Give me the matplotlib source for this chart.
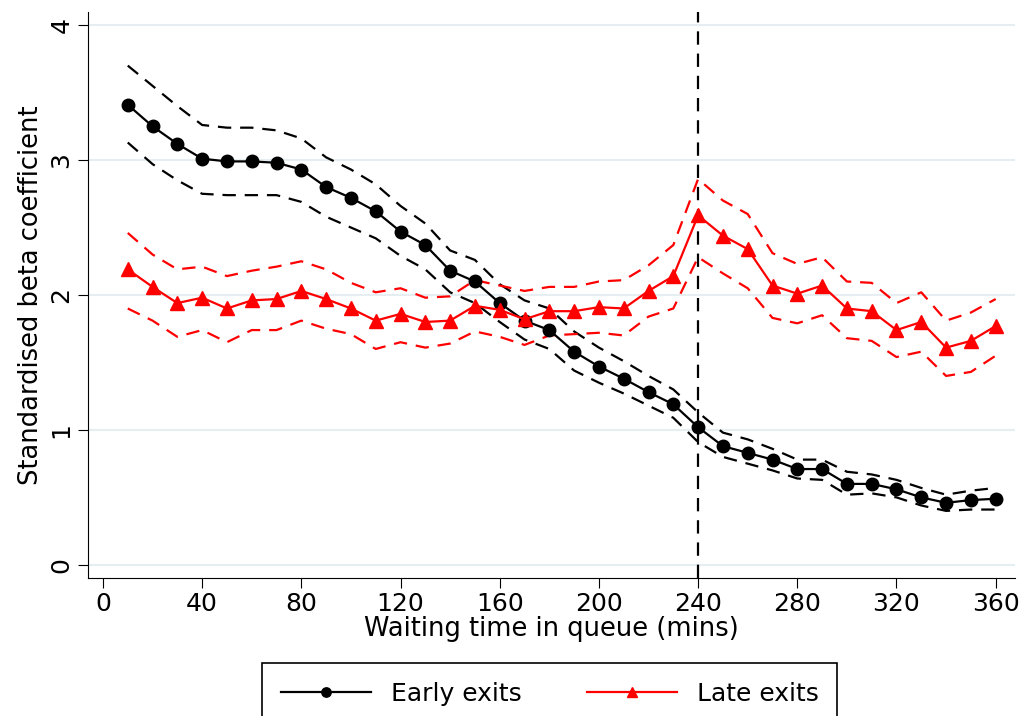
import numpy as np
import matplotlib
matplotlib.use("Agg")
import matplotlib.pyplot as plt

# waiting time bins (mins)
wait = np.arange(10, 370, 10)

early = [3.41, 3.25, 3.12, 3.01, 2.99, 2.99, 2.98, 2.93, 2.80, 2.72, 2.62, 2.47,
         2.37, 2.18, 2.10, 1.94, 1.81, 1.74, 1.58, 1.47, 1.38, 1.28, 1.19, 1.02,
         0.88, 0.83, 0.78, 0.71, 0.71, 0.60, 0.60, 0.56, 0.50, 0.46, 0.48, 0.49]
early_hi = [3.70, 3.55, 3.40, 3.26, 3.24, 3.24, 3.22, 3.16, 3.02, 2.93, 2.82, 2.66,
            2.53, 2.33, 2.26, 2.08, 1.96, 1.90, 1.73, 1.61, 1.51, 1.40, 1.30, 1.13,
            0.98, 0.93, 0.86, 0.78, 0.78, 0.69, 0.67, 0.63, 0.57, 0.52, 0.55, 0.57]
early_lo = [3.13, 2.97, 2.85, 2.75, 2.74, 2.74, 2.74, 2.69, 2.58, 2.50, 2.42, 2.29,
            2.19, 2.02, 1.94, 1.80, 1.67, 1.60, 1.44, 1.35, 1.27, 1.18, 1.09, 0.91,
            0.80, 0.75, 0.70, 0.64, 0.63, 0.52, 0.53, 0.50, 0.44, 0.40, 0.41, 0.41]

late = [2.19, 2.06, 1.94, 1.98, 1.90, 1.96, 1.97, 2.03, 1.97, 1.90, 1.81, 1.86,
        1.80, 1.81, 1.92, 1.89, 1.82, 1.88, 1.88, 1.91, 1.90, 2.03, 2.14, 2.59,
        2.44, 2.34, 2.07, 2.01, 2.07, 1.90, 1.88, 1.74, 1.80, 1.61, 1.66, 1.77]
late_hi = [2.46, 2.30, 2.19, 2.21, 2.14, 2.18, 2.21, 2.25, 2.19, 2.09, 2.02, 2.05,
           1.98, 1.99, 2.11, 2.07, 2.03, 2.06, 2.06, 2.10, 2.11, 2.22, 2.37, 2.86,
           2.70, 2.60, 2.31, 2.23, 2.28, 2.10, 2.09, 1.94, 2.02, 1.81, 1.87, 1.97]
late_lo = [1.90, 1.81, 1.69, 1.74, 1.65, 1.74, 1.74, 1.81, 1.75, 1.71, 1.60, 1.65,
           1.61, 1.64, 1.73, 1.69, 1.63, 1.70, 1.71, 1.72, 1.70, 1.84, 1.90, 2.28,
           2.16, 2.05, 1.83, 1.79, 1.85, 1.68, 1.66, 1.54, 1.58, 1.40, 1.43, 1.55]

cutoff = 240
dash = (0, (6, 4))

fig = plt.figure(figsize=(10.24, 7.16), dpi=100)
ax = fig.add_axes([0.086, 0.193, 0.905, 0.79])

ax.axvline(cutoff, color="black", lw=1.6, ls=dash, zorder=1)

ax.plot(wait, early_hi, color="black", lw=1.6, ls=dash)
ax.plot(wait, early_lo, color="black", lw=1.6, ls=dash)
ax.plot(wait, late_hi, color="red", lw=1.6, ls=dash)
ax.plot(wait, late_lo, color="red", lw=1.6, ls=dash)
ax.plot(wait, early, color="black", lw=1.6, marker="o", ms=9, label="Early exits", zorder=4)
ax.plot(wait, late, color="red", lw=1.6, marker="^", ms=10, label="Late exits", zorder=4)

ax.set_xlim(-6, 367.7)
ax.set_ylim(-0.096, 4.096)
ax.set_xticks(range(0, 361, 40))
ax.set_yticks([0, 1, 2, 3, 4])
ax.grid(axis="y", color="#e6eef2", lw=1.5)
ax.set_axisbelow(True)
for s in ["top", "right"]:
    ax.spines[s].set_visible(False)
ax.tick_params(direction="out", length=7, labelsize=18)
for lab in ax.get_yticklabels():
    lab.set_rotation(90)
    lab.set_va("center")
ax.set_xlabel("Waiting time in queue (mins)", fontsize=18.5, labelpad=0)
ax.set_ylabel("Standardised beta coefficient", fontsize=18.5, labelpad=4)

leg = fig.legend(loc="center", bbox_to_anchor=(0.537, 0.031), ncol=2, fontsize=18,
                 frameon=True, fancybox=False, edgecolor="black", handlelength=3.6,
                 columnspacing=2.6, borderpad=0.75, markerscale=0.75, framealpha=1)
leg.get_frame().set_linewidth(1.2)

fig.savefig("out.png", dpi=100)
